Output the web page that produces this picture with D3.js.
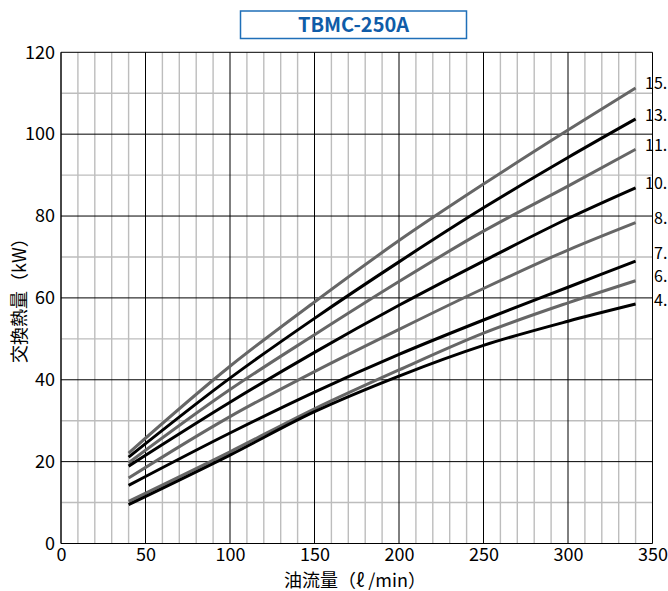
<!DOCTYPE html>
<html>
<head>
<meta charset="utf-8">
<script src="https://cdn.jsdelivr.net/npm/d3@7"></script>
<style>
  html, body { margin: 0; padding: 0; background: #fff; }
  svg { display: block; }
  text { font-family: "Noto Sans CJK JP", "Noto Sans", sans-serif; }
</style>
</head>
<body>
<svg id="chart" width="668" height="591"></svg>
<script>
// ---- data ----
const title = "TBMC-250A";
const flowPoints = [40, 100, 150, 200, 250, 300, 340];
const seriesLabels = ["15.", "13.", "11.", "10.", "8.", "7.", "6.", "4."];
const seriesColors = ["#666666", "#000000", "#666666", "#000000", "#666666", "#000000", "#666666", "#000000"];
const s15 = [22.1, 43.3, 59.0, 74.0, 87.8, 101.0, 111.3];
const s13 = [21.1, 40.4, 55.0, 68.8, 82.0, 94.3, 103.7];
const s11 = [19.7, 37.6, 51.0, 64.0, 76.3, 87.3, 96.3];
const s10 = [18.9, 34.5, 46.7, 58.2, 69.0, 79.4, 86.9];
const s8  = [16.0, 31.0, 42.0, 52.3, 62.3, 71.7, 78.4];
const s7  = [14.2, 27.0, 37.0, 46.2, 54.6, 62.6, 69.0];
const s6  = [10.3, 22.4, 32.9, 42.4, 51.4, 58.8, 64.2];
const s4  = [9.5, 21.6, 32.2, 40.9, 48.4, 54.3, 58.5];
const seriesValues = [s15, s13, s11, s10, s8, s7, s6, s4];
const xTicks = [0, 50, 100, 150, 200, 250, 300, 350];
const yTicks = [0, 20, 40, 60, 80, 100, 120];
const xLabel = "油流量（ℓ /min）";
const yLabel = "交換熱量（kW）";

// ---- layout ----
const FONT = "'Noto Sans CJK JP', 'Noto Sans', sans-serif";
const LABEL_FONT = "'Liberation Sans', Arial, sans-serif";
const svg = d3.select("#chart");
const x = d3.scaleLinear().domain([0, 350]).range([61, 652.5]);
const y = d3.scaleLinear().domain([0, 120]).range([543.5, 52.3]);

// title box
svg.append("rect")
  .attr("x", 240.5).attr("y", 11).attr("width", 226).attr("height", 27.5)
  .attr("fill", "#fff").attr("stroke", "#1f6fb8").attr("stroke-width", 1.5);
svg.append("text")
  .attr("x", 353.5).attr("y", 32)
  .attr("text-anchor", "middle")
  .attr("font-family", FONT)
  .attr("font-size", 20).attr("font-weight", "bold")
  .attr("fill", "#0f5ca8")
  .text(title);

// grid
const g = svg.append("g");
const minorX = d3.range(10, 350, 10).filter(v => v % 50 !== 0);
const minorY = d3.range(10, 120, 10).filter(v => v % 20 !== 0);
g.selectAll(".mx").data(minorX).enter().append("line")
  .attr("x1", d => x(d)).attr("x2", d => x(d))
  .attr("y1", y(0)).attr("y2", y(120))
  .attr("stroke", "#bdbdbd").attr("stroke-width", 1.4);
g.selectAll(".my").data(minorY).enter().append("line")
  .attr("x1", x(0)).attr("x2", x(350))
  .attr("y1", d => y(d)).attr("y2", d => y(d))
  .attr("stroke", "#bdbdbd").attr("stroke-width", 1.4);
g.selectAll(".Mx").data(xTicks).enter().append("line")
  .attr("x1", d => x(d)).attr("x2", d => x(d))
  .attr("y1", y(0)).attr("y2", y(120))
  .attr("stroke", d => d === 0 ? "#333" : "#000")
  .attr("stroke-width", d => d === 0 ? 1.8 : 1);
g.selectAll(".My").data(yTicks).enter().append("line")
  .attr("x1", x(0)).attr("x2", x(350))
  .attr("y1", d => y(d)).attr("y2", d => y(d))
  .attr("stroke", "#000").attr("stroke-width", 1);

// axes labels
const xAxis = d3.axisBottom(x).tickValues(xTicks).tickSize(0).tickPadding(5);
const ax = svg.append("g").attr("transform", `translate(0,${y(0)})`).call(xAxis);
ax.select(".domain").remove();
ax.selectAll("text").attr("font-size", 18).attr("fill", "#000").attr("font-family", FONT);

const yAxis = d3.axisLeft(y).tickValues(yTicks).tickSize(0).tickPadding(6);
const ay = svg.append("g").attr("transform", `translate(${x(0)},0)`).call(yAxis);
ay.select(".domain").remove();
ay.selectAll("text").attr("font-size", 18).attr("fill", "#000").attr("font-family", FONT);

svg.append("text")
  .attr("x", 355).attr("y", 587)
  .attr("text-anchor", "middle").attr("font-size", 18).attr("fill", "#000")
  .attr("font-family", FONT)
  .text(xLabel);
svg.append("text")
  .attr("transform", "translate(26,296) rotate(-90)")
  .attr("text-anchor", "middle").attr("font-size", 18).attr("fill", "#000")
  .attr("font-family", FONT)
  .text(yLabel);

// curves
const line = d3.line()
  .x((d, i) => x(flowPoints[i]))
  .y(d => y(d))
  .curve(d3.curveMonotoneX);
svg.selectAll(".curve").data(seriesValues).enter().append("path")
  .attr("d", d => line(d))
  .attr("fill", "none")
  .attr("stroke", (d, i) => seriesColors[i])
  .attr("stroke-width", 3)
  .attr("stroke-linecap", "butt");

// series labels at the right (simple collision avoidance, pushing upward)
const labelY = seriesValues.map(d => y(d[d.length - 1]) + 1.5);
const minGap = 23;
for (let i = labelY.length - 2; i >= 0; i--) {
  if (labelY[i] > labelY[i + 1] - minGap) labelY[i] = labelY[i + 1] - minGap;
}
svg.selectAll(".lbl").data(seriesValues).enter().append("text")
  .attr("x", (d, i) => seriesLabels[i].length > 2 ? 645 : 654)
  .attr("y", (d, i) => labelY[i])
  .attr("font-family", LABEL_FONT)
  .attr("font-size", 16).attr("fill", "#000")
  .text((d, i) => seriesLabels[i]);
</script>
</body>
</html>
